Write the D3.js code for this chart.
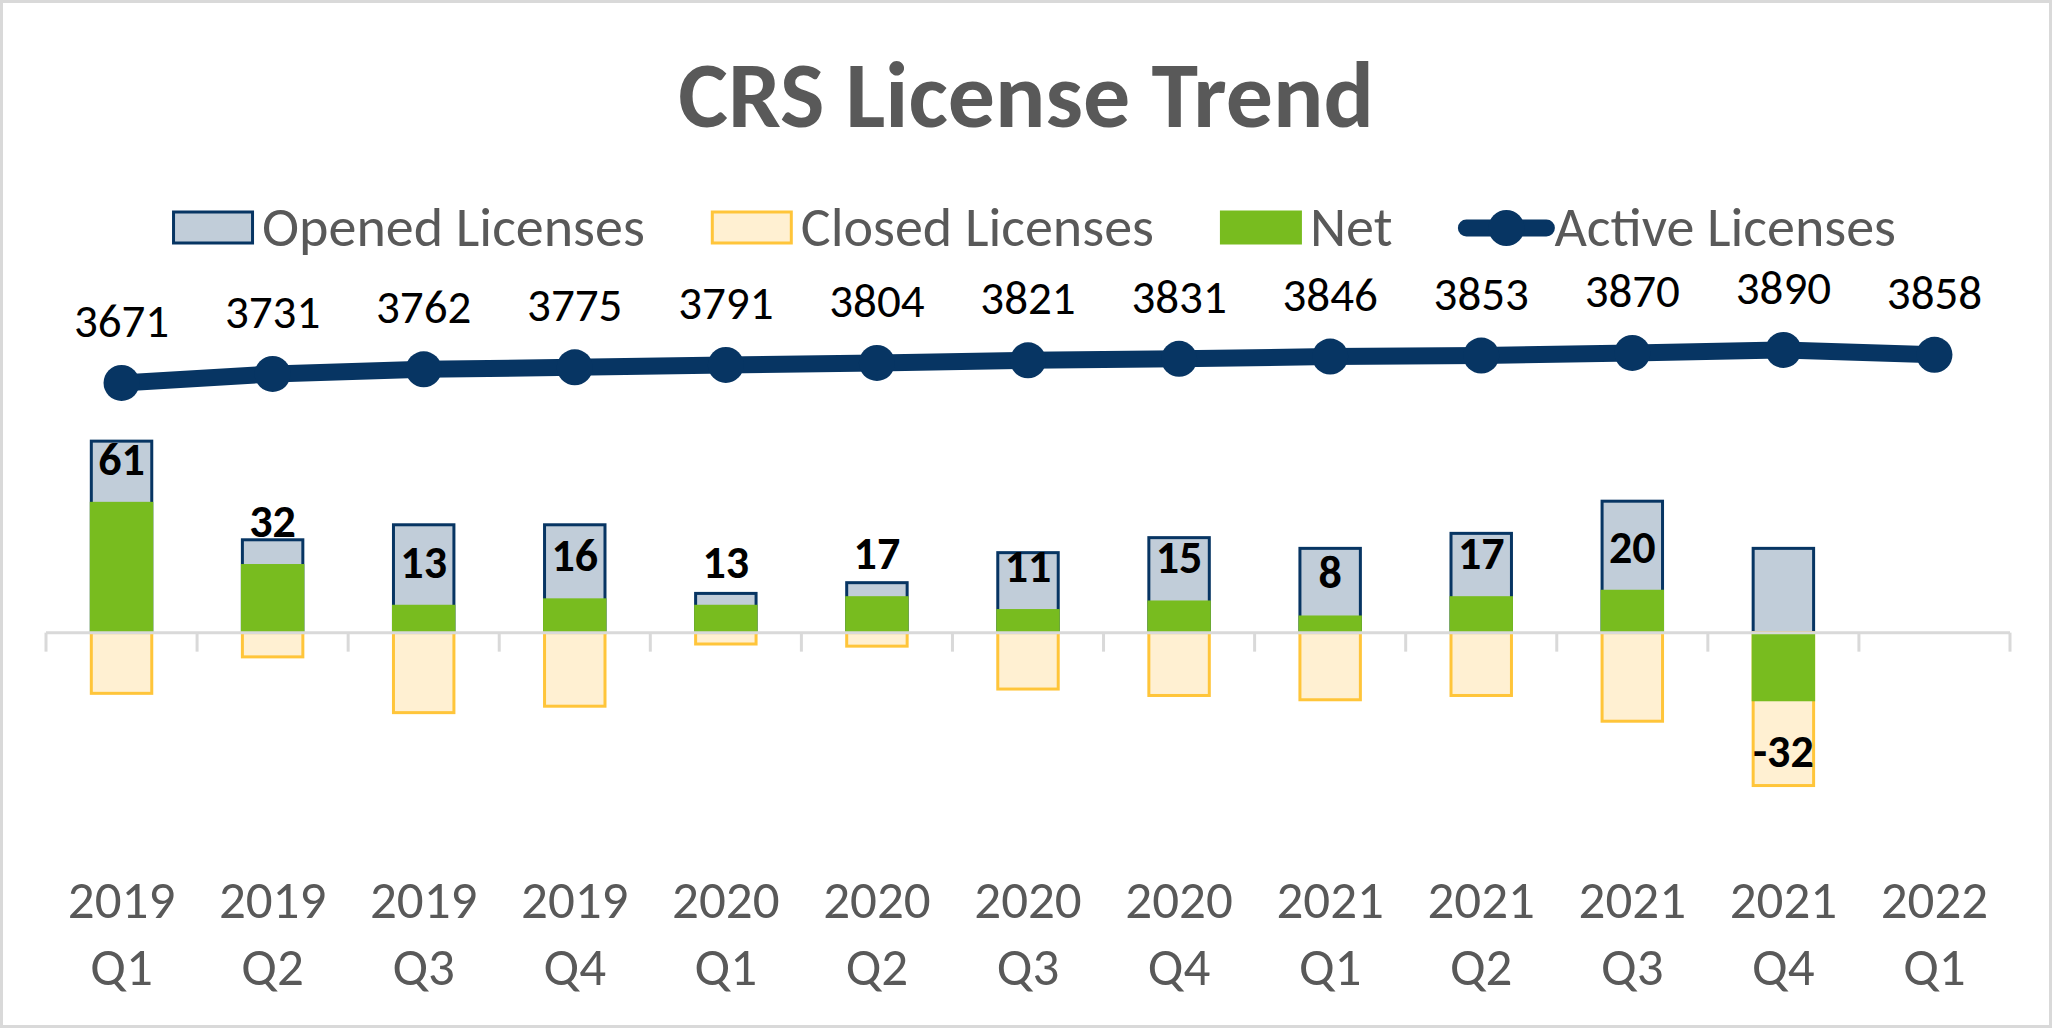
<!DOCTYPE html>
<html>
<head>
<meta charset="utf-8">
<script src="https://cdn.jsdelivr.net/npm/d3@7"></script>
<style>
  html, body { margin: 0; padding: 0; background: #fff; }
  text { font-family: Carlito, Lato, sans-serif; }
</style>
</head>
<body>
<div id="chart"></div>
<script>
// values
const years = ["2019", "2019", "2019", "2019", "2020", "2020", "2020", "2020", "2021", "2021", "2021", "2021", "2022"];
const quarters = ["Q1", "Q2", "Q3", "Q4", "Q1", "Q2", "Q3", "Q4", "Q1", "Q2", "Q3", "Q4", "Q1"];
const opened = [90, 44, 51, 51, 19, 24, 38, 45, 40, 47, 62, 40, null];
const closed = [29, 12, 38, 35, 6, 7, 27, 30, 32, 30, 42, 72, null];
const net = [61, 32, 13, 16, 13, 17, 11, 15, 8, 17, 20, -32, null];
const active = [3671, 3731, 3762, 3775, 3791, 3804, 3821, 3831, 3846, 3853, 3870, 3890, 3858];
const seriesNames = ["Opened Licenses", "Closed Licenses", "Net", "Active Licenses"];

const W = 2052, H = 1028;
const navy = "#073563", openFill = "#c1cdd9", closeFill = "#fff0d2", closeStroke = "#ffc53a", green = "#78bc1f";
const grey = "#595959";

const cats = years.map((y, i) => i);

const svg = d3.select("#chart").append("svg")
    .attr("width", W)
    .attr("height", H);

svg.append("rect")
    .attr("x", 1.5).attr("y", 1.5)
    .attr("width", W - 3).attr("height", H - 3)
    .attr("fill", "#fff")
    .attr("stroke", "#d9d9d9")
    .attr("stroke-width", 3);

const x = d3.scaleBand()
    .domain(cats)
    .range([46, 2010])
    .paddingInner(0.58)
    .paddingOuter(0.29);

const y = d3.scaleLinear()
    .domain([-80, 100])
    .range([804.2, 418.2]);

const y2 = d3.scaleLinear()
    .domain([3400, 4000])
    .range([423.8, 333.4]);

// title
svg.append("text")
    .attr("x", W / 2)
    .attr("y", 127)
    .attr("text-anchor", "middle")
    .attr("font-size", 94)
    .attr("font-weight", "bold")
    .attr("fill", grey)
    .text("CRS License Trend");

// legend
const legend = svg.append("g");
let cursor = 0;
seriesNames.forEach((name, i) => {
    const g = legend.append("g").attr("transform", `translate(${cursor},0)`);
    let sw = 82;
    if (i === 0) {
        g.append("rect").attr("x", 1.5).attr("y", -16).attr("width", sw - 3).attr("height", 31)
            .attr("fill", openFill).attr("stroke", navy).attr("stroke-width", 3);
    } else if (i === 1) {
        g.append("rect").attr("x", 1.5).attr("y", -16).attr("width", sw - 3).attr("height", 31)
            .attr("fill", closeFill).attr("stroke", closeStroke).attr("stroke-width", 3);
    } else if (i === 2) {
        g.append("rect").attr("x", 0).attr("y", -17.5).attr("width", sw).attr("height", 34)
            .attr("fill", green);
    } else {
        sw = 96;
        g.append("line").attr("x1", 8).attr("x2", sw - 8).attr("y1", 0).attr("y2", 0)
            .attr("stroke", navy).attr("stroke-width", 17).attr("stroke-linecap", "round");
        g.append("circle").attr("cx", sw / 2).attr("cy", 0).attr("r", 18).attr("fill", navy);
    }
    const t = g.append("text")
        .attr("x", i === 3 ? sw : sw + 8)
        .attr("y", 18)
        .attr("font-size", 56)
        .attr("fill", grey)
        .text(name);
    cursor += (i === 3 ? sw : sw + 8) + t.node().getComputedTextLength() + 66;
});
const legendW = cursor - 66;
legend.attr("transform", `translate(${(170 + 1898) / 2 - legendW / 2},228)`);

// inset a stroked bar so its outer edge matches the band
const bw = x.bandwidth();

svg.append("g").selectAll("rect")
    .data(cats.filter(i => opened[i] != null))
    .join("rect")
    .attr("x", i => x(i) + 1.5)
    .attr("width", bw - 3)
    .attr("y", i => y(opened[i]) + 1.5)
    .attr("height", i => y(0) - y(opened[i]) - 1.5)
    .attr("fill", openFill)
    .attr("stroke", navy)
    .attr("stroke-width", 3);

svg.append("g").selectAll("rect")
    .data(cats.filter(i => closed[i] != null))
    .join("rect")
    .attr("x", i => x(i) + 1.5)
    .attr("width", bw - 3)
    .attr("y", y(0))
    .attr("height", i => y(-closed[i]) - y(0) - 1.5)
    .attr("fill", closeFill)
    .attr("stroke", closeStroke)
    .attr("stroke-width", 3);

svg.append("g").selectAll("rect")
    .data(cats.filter(i => net[i] != null))
    .join("rect")
    .attr("x", i => x(i))
    .attr("width", bw)
    .attr("y", i => Math.min(y(net[i]), y(0)))
    .attr("height", i => Math.abs(y(net[i]) - y(0)))
    .attr("fill", green);

// category axis, ticks sit between categories
const axis = svg.append("g");
axis.append("line")
    .attr("x1", x.range()[0]).attr("x2", x.range()[1])
    .attr("y1", y(0)).attr("y2", y(0))
    .attr("stroke", "#d9d9d9").attr("stroke-width", 3);
const tickX = cats.map(i => x(i) - x.step() * x.paddingInner() / 2).concat([x.range()[1]]);
axis.selectAll(".tick")
    .data(tickX)
    .join("line")
    .attr("x1", d => d).attr("x2", d => d)
    .attr("y1", y(0)).attr("y2", y(0) + 19)
    .attr("stroke", "#d9d9d9").attr("stroke-width", 3);

const labels = axis.selectAll(".cat")
    .data(cats)
    .join("text")
    .attr("text-anchor", "middle")
    .attr("font-size", 53)
    .attr("fill", grey);
labels.append("tspan")
    .attr("x", i => x(i) + bw / 2)
    .attr("y", 918)
    .text(i => years[i]);
labels.append("tspan")
    .attr("x", i => x(i) + bw / 2)
    .attr("y", 985)
    .text(i => quarters[i]);

// net labels
svg.append("g").selectAll("text")
    .data(cats.filter(i => net[i] != null))
    .join("text")
    .attr("x", i => x(i) + bw / 2)
    .attr("y", i => net[i] >= 0 ? y(net[i]) - 43 + 16 : y(net[i]) + 50 + 16)
    .attr("text-anchor", "middle")
    .attr("font-size", 46)
    .attr("font-weight", "bold")
    .attr("fill", "#000")
    .text(i => net[i]);

// active licenses line
const line = d3.line()
    .x(i => x(i) + bw / 2)
    .y(i => y2(active[i]));

svg.append("path")
    .datum(cats)
    .attr("d", line)
    .attr("fill", "none")
    .attr("stroke", navy)
    .attr("stroke-width", 17)
    .attr("stroke-linejoin", "round");

svg.append("g").selectAll("circle")
    .data(cats)
    .join("circle")
    .attr("cx", i => x(i) + bw / 2)
    .attr("cy", i => y2(active[i]))
    .attr("r", 18)
    .attr("fill", navy);

svg.append("g").selectAll("text")
    .data(cats)
    .join("text")
    .attr("x", i => x(i) + bw / 2)
    .attr("y", i => y2(active[i]) - 63 + 17)
    .attr("text-anchor", "middle")
    .attr("font-size", 47)
    .attr("fill", "#000")
    .text(i => active[i]);
</script>
</body>
</html>
